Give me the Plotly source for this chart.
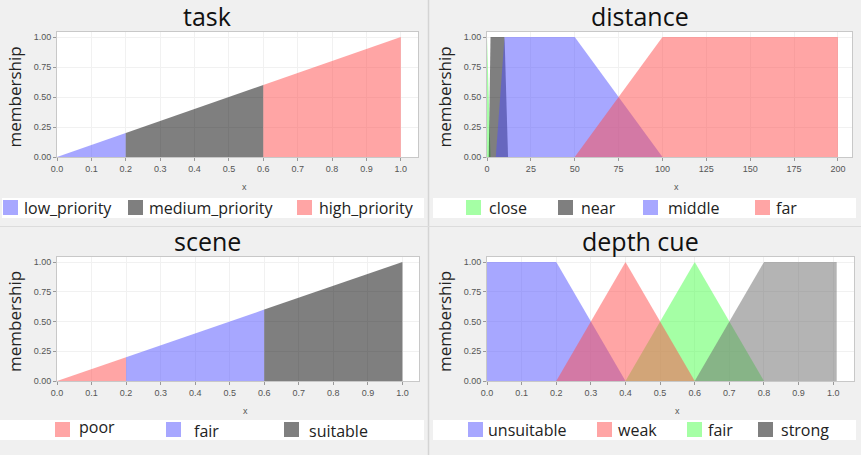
import plotly.graph_objects as go

W, H = 861, 455

# ---------------- data ----------------
task_names = ["low_priority", "medium_priority", "high_priority"]
task_x = [[0.0, 0.2], [0.2, 0.6], [0.6, 1.0]]
task_y = [[0.0, 0.2], [0.2, 0.6], [0.6, 1.0]]

dist_names = ["close", "near", "middle", "far"]
dist_x = [[0, 0, 2], [1, 2, 10, 12], [5, 10, 50, 100], [50, 100, 200]]
dist_y = [[0, 1, 0], [0, 1, 1, 0], [0, 1, 1, 0], [0, 1, 1]]

scene_names = ["poor", "fair", "suitable"]
scene_x = [[0.0, 0.2], [0.2, 0.6], [0.6, 1.0]]
scene_y = [[0.0, 0.2], [0.2, 0.6], [0.6, 1.0]]

depth_names = ["unsuitable", "weak", "fair", "strong"]
depth_x = [[0.0, 0.2, 0.4], [0.2, 0.4, 0.6], [0.4, 0.6, 0.8], [0.6, 0.8, 1.01]]
depth_y = [[1, 1, 0], [0, 1, 0], [0, 1, 0], [0, 1, 1]]

titles = ["task", "distance", "scene", "depth cue"]
x_ticks_unit = [0.1, 25, 0.1, 0.1]
y_ticks = [0.0, 0.25, 0.5, 0.75, 1.0]

# ---------------- styles ----------------
BLUE = "rgba(80,80,255,0.5)"
RED = "rgba(255,75,75,0.5)"
GREEN = "rgba(75,255,75,0.5)"
BLACK = "rgba(0,0,0,0.5)"
GRAY = "rgba(105,105,105,0.5)"

task_colors = [BLUE, BLACK, RED]
dist_colors = [GREEN, BLACK, BLUE, RED]
scene_colors = [RED, BLUE, BLACK]
depth_colors = [BLUE, RED, GREEN, GRAY]
depth_legend_colors = [BLUE, RED, GREEN, BLACK]
depth_draw_order = [0, 2, 1, 3]

FONT = "Open Sans"


def fx(px):
    return px / W


def fy(py):
    return 1 - py / H


# panel plot-area pixel boxes: (left, right, top, bottom)
boxes = [(57, 418, 32, 157), (487, 852, 32, 157), (57, 419, 257, 381), (487, 854, 257, 381)]
xranges = [[0, 1.05], [0, 208], [0, 1.048], [0, 1.06]]
xfmt = [".1f", "d", ".1f", ".1f"]

fig = go.Figure()

panels = [
    (task_names, task_x, task_y, task_colors, [0, 1, 2]),
    (dist_names, dist_x, dist_y, dist_colors, [0, 1, 2, 3]),
    (scene_names, scene_x, scene_y, scene_colors, [0, 1, 2]),
    (depth_names, depth_x, depth_y, depth_colors, depth_draw_order),
]

for p, (names, xs, ys, cols, order) in enumerate(panels):
    xa = "x" if p == 0 else f"x{p+1}"
    ya = "y" if p == 0 else f"y{p+1}"
    for i in order:
        fig.add_trace(go.Scatter(
            x=xs[i], y=ys[i], name=names[i], mode="lines",
            fill="tozeroy", fillcolor=cols[i],
            line=dict(width=0, color=cols[i]),
            xaxis=xa, yaxis=ya, showlegend=False, hoverinfo="x+y+name",
        ))

layout_axes = {}
for p in range(4):
    l, r, t, b = boxes[p]
    kx = "xaxis" if p == 0 else f"xaxis{p+1}"
    ky = "yaxis" if p == 0 else f"yaxis{p+1}"
    xa_anchor = "y" if p == 0 else f"y{p+1}"
    ya_anchor = "x" if p == 0 else f"x{p+1}"
    layout_axes[kx] = dict(
        domain=[fx(l), fx(r)], anchor=xa_anchor, range=xranges[p],
        dtick=x_ticks_unit[p], tick0=0, tickformat=xfmt[p],
        showline=True, mirror=True, linecolor="#c8c8c8", linewidth=1,
        showgrid=True, gridcolor="#f1f1f1", zeroline=False,
        ticks="outside", ticklen=3, tickcolor="#999",
        tickfont=dict(family="Liberation Sans", size=9, color="#555"),
        automargin=False, fixedrange=True,
    )
    layout_axes[ky] = dict(
        domain=[fy(b), fy(t)], anchor=ya_anchor, range=[0, 1.042],
        tickvals=y_ticks, tickformat=".2f",
        showline=True, mirror=True, linecolor="#c8c8c8", linewidth=1,
        showgrid=True, gridcolor="#f1f1f1", zeroline=False,
        ticks="outside", ticklen=3, tickcolor="#999",
        tickfont=dict(family="Liberation Sans", size=9, color="#555"),
        automargin=False, fixedrange=True,
    )

annotations = []
shapes = []

# separators
shapes.append(dict(type="line", xref="paper", yref="paper", x0=fx(428.5), x1=fx(428.5),
                   y0=0, y1=1, line=dict(color="#d4d4d4", width=1.5)))
shapes.append(dict(type="line", xref="paper", yref="paper", x0=0, x1=1,
                   y0=fy(226.5), y1=fy(226.5), line=dict(color="#dcdcdc", width=1)))

title_centers = [(207, 16), (640, 16), (207, 241), (640, 241)]
for p in range(4):
    l, r, t, b = boxes[p]
    cx, cy = title_centers[p]
    annotations.append(dict(text=titles[p], x=fx(cx), y=fy(cy), xref="paper", yref="paper",
                            showarrow=False, xanchor="center", yanchor="middle",
                            font=dict(family=FONT, size=25, color="#111")))
    annotations.append(dict(text="membership", x=fx(l - 43), y=fy((t + b) / 2 + 3),
                            xref="paper", yref="paper", textangle=-90,
                            showarrow=False, xanchor="center", yanchor="middle",
                            font=dict(family=FONT, size=17, color="#222")))
    annotations.append(dict(text="x", x=fx((l + r) / 2 + 7), y=fy(b + 30),
                            xref="paper", yref="paper",
                            showarrow=False, xanchor="center", yanchor="middle",
                            font=dict(family="Liberation Sans", size=9, color="#555")))

# legend bands
bands = [(2, 424, 198, 218), (433, 856, 198, 218), (0, 424, 420, 440), (433, 856, 420, 440)]
for (l, r, t, b) in bands:
    shapes.append(dict(type="rect", xref="paper", yref="paper", x0=fx(l), x1=fx(r),
                       y0=fy(b), y1=fy(t), fillcolor="white", line=dict(width=0), layer="below"))

legend_specs = [
    (task_names, task_colors, [3, 128, 297], [22, 147, 317], 200, [208, 208, 208]),
    (dist_names, dist_colors, [466, 558, 643, 755], [487, 579, 666, 774], 200, [208, 208, 208, 208]),
    (scene_names, scene_colors, [55, 166, 284], [77, 192, 307], 422, [427, 431, 431]),
    (depth_names, depth_legend_colors, [468, 597, 687, 758], [486, 616, 706, 779], 422, [430, 430, 430, 430]),
]
for names, cols, sx, tx, sy, ty in legend_specs:
    for i, n in enumerate(names):
        shapes.append(dict(type="rect", xref="paper", yref="paper",
                           x0=fx(sx[i]), x1=fx(sx[i] + 15), y0=fy(sy + 15), y1=fy(sy),
                           fillcolor=cols[i], line=dict(width=0)))
        annotations.append(dict(text=n, x=fx(tx[i]), y=fy(ty[i]), xref="paper", yref="paper",
                                showarrow=False, xanchor="left", yanchor="middle",
                                font=dict(family=FONT, size=16, color="#222")))

fig.update_layout(
    width=W, height=H, margin=dict(l=0, r=0, t=0, b=0),
    paper_bgcolor="#f0f0f0", plot_bgcolor="white",
    showlegend=False, annotations=annotations, shapes=shapes,
    **layout_axes,
)

fig.write_html("out.html", config={"displayModeBar": False})
